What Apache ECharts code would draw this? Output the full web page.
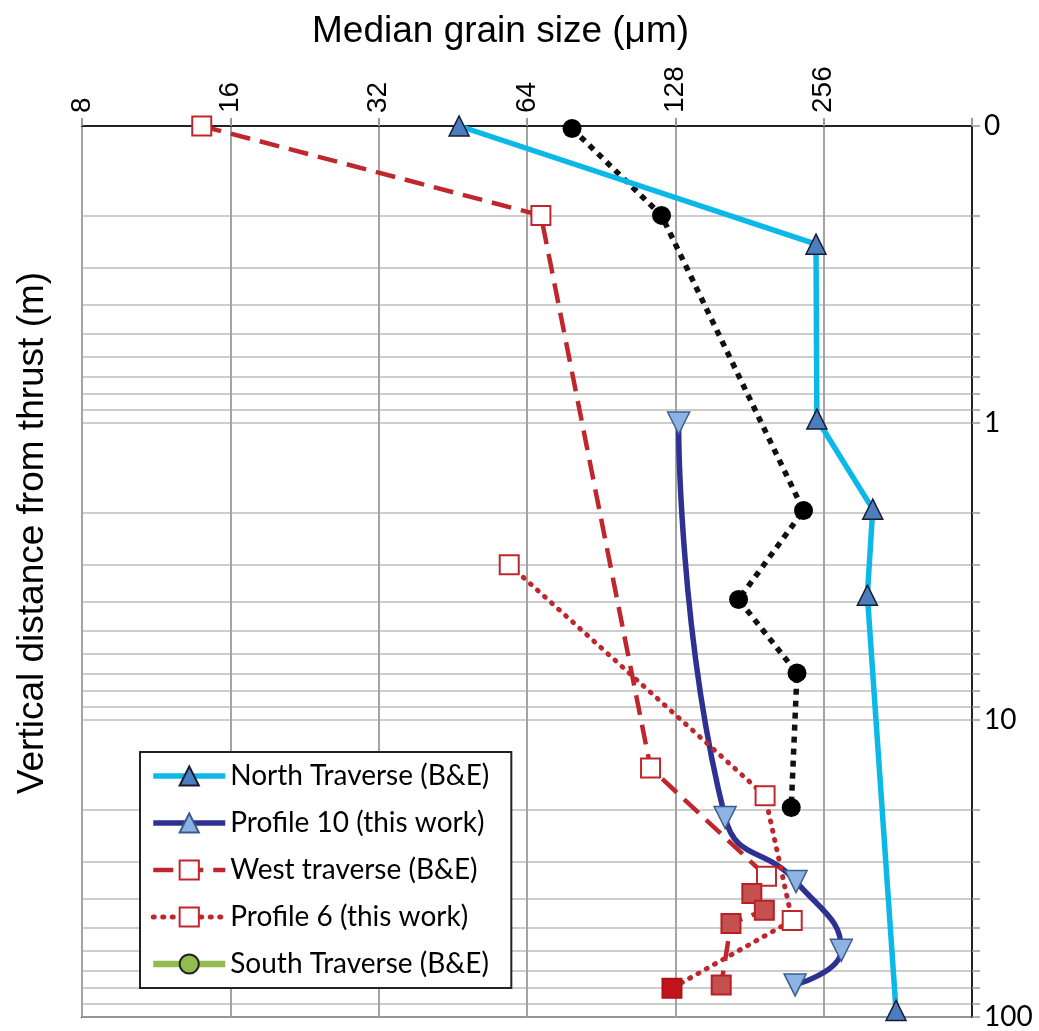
<!DOCTYPE html>
<html>
<head>
<meta charset="utf-8">
<script src="https://cdn.jsdelivr.net/npm/echarts@6/dist/echarts.min.js"></script>
<style>
  html, body { margin: 0; padding: 0; background: #fff; }
  #chart { width: 1039px; height: 1031px; }
</style>
</head>
<body>
<div id="chart"></div>
<script>
// grain size (um) vs vertical distance from thrust (m)
const northSize = [46.6, 247, 248, 322, 314, 359];
const northDepth = [0.1, 0.25, 0.97, 1.95, 3.8, 95];

const prof10Size = [130, 161.5, 225, 278, 224];
const prof10Depth = [1.0, 21.3, 35, 59.6, 78];

const westSize = [14.0, 68.3, 114, 196, 183, 194, 166, 158.6];
const westDepth = [0.1, 0.2, 14.5, 33.6, 38.4, 43.7, 48.4, 78];

const prof6Size = [58.9, 194.7, 221, 126];
const prof6Depth = [3.0, 18.0, 47.3, 80];

const southSize = [79, 120, 233, 172, 226, 220];
const southDepth = [0.102, 0.2, 1.97, 3.93, 6.95, 19.7];

const xTicks = [8, 16, 32, 64, 128, 256];
const legendNames = ['North Traverse (B&E)', 'Profile 10 (this work)', 'West traverse (B&E)', 'Profile 6 (this work)', 'South Traverse (B&E)'];

const zip = (a, b) => a.map((v, i) => [v, b[i]]);
const red = '#C0272D';

const chart = echarts.init(document.getElementById('chart'));

chart.setOption({
  animation: false,
  backgroundColor: '#fff',
  grid: { left: 82, right: 67, top: 126, bottom: 11, show: true, borderColor: '#222', borderWidth: 2 },
  xAxis: {
    type: 'log', logBase: 2, min: 8, max: 512, position: 'top',
    axisLine: { show: true, lineStyle: { color: '#222', width: 2 } },
    axisTick: { show: true, length: 8, lineStyle: { color: '#999', width: 2 } },
    axisLabel: {
      rotate: -90, fontFamily: 'Liberation Sans', fontSize: 28, color: '#000', margin: 13,
      formatter: v => xTicks.indexOf(Math.round(v)) >= 0 ? String(Math.round(v)) : ''
    },
    splitLine: { show: true, lineStyle: { color: '#A3A3A3', width: 2 } }
  },
  yAxis: [{
    type: 'log', logBase: 10, min: 0.1, max: 100, inverse: true, position: 'right',
    axisLine: { show: true, lineStyle: { color: '#222', width: 2 } },
    axisTick: { show: true, length: 8, lineStyle: { color: '#999', width: 1.5 } },
    minorTick: { show: true, splitNumber: 9, length: 8, lineStyle: { color: '#999', width: 1.5 } },
    minorSplitLine: { show: true, lineStyle: { color: '#BDBDBD', width: 1.5 } },
    splitLine: { show: true, lineStyle: { color: '#BDBDBD', width: 1.5 } },
    axisLabel: {
      fontFamily: 'Lato', fontSize: 28, color: '#000', margin: 12,
      formatter: v => v < 1 ? '0' : String(Math.round(v))
    }
  }],
  legend: {
    data: legendNames,
    orient: 'vertical', left: 140, top: 752,
    backgroundColor: '#fff', borderColor: '#222', borderWidth: 2,
    padding: [10, 22, 10, 10],
    itemWidth: 72, itemHeight: 24, itemGap: 19, symbolRotate: 0,
    lineStyle: { width: 'inherit', type: 'inherit' },
    textStyle: { fontFamily: 'Lato', fontSize: 28, lineHeight: 28, color: '#000', padding: [0, 0, 0, 0] }
  },
  graphic: [
    { type: 'text', x: 312, y: 32, style: { text: 'Median grain size (μm)', fontFamily: 'Liberation Sans', fontSize: 37, fill: '#000', textVerticalAlign: 'middle' } },
    { type: 'text', x: 14, y: 533, rotation: Math.PI / 2, style: { text: 'Vertical distance from thrust (m)', fontFamily: 'Liberation Sans', fontSize: 37, fill: '#000', textAlign: 'center', textVerticalAlign: 'top' } }
  ],
  series: [
    {
      name: 'South Traverse data', type: 'line', z: 3,
      data: zip(southSize, southDepth),
      symbol: 'circle', symbolSize: 19,
      itemStyle: { color: '#000' },
      lineStyle: { color: '#111', width: 5.5, type: [6, 6] }
    },
    {
      name: legendNames[0], type: 'line', z: 4,
      data: zip(northSize, northDepth),
      symbol: 'triangle', symbolSize: 20,
      itemStyle: { color: '#4A7EBF', borderColor: '#1A1A2E', borderWidth: 1.5 },
      lineStyle: { color: '#0CB8E8', width: 5.5 }
    },
    {
      name: legendNames[1], type: 'line', z: 5, smooth: 0.5,
      data: zip(prof10Size, prof10Depth),
      symbol: 'triangle', symbolRotate: 180, symbolSize: 22,
      itemStyle: { color: '#8DB3E2', borderColor: '#3B5D8E', borderWidth: 1.5 },
      lineStyle: { color: '#2E3192', width: 5.5 }
    },
    {
      name: legendNames[2], type: 'line', z: 6,
      data: zip(westSize, westDepth).map((p, i) => i >= 4
        ? { value: p, itemStyle: { color: '#C4504F', borderColor: '#B82025' } }
        : p),
      symbol: 'rect', symbolSize: 19,
      itemStyle: { color: '#fff', borderColor: red, borderWidth: 2 },
      lineStyle: { color: red, width: 4.5, type: [20, 10] }
    },
    {
      name: legendNames[3], type: 'line', z: 6,
      data: zip(prof6Size, prof6Depth).map((p, i) => i === prof6Size.length - 1
        ? { value: p, itemStyle: { color: '#C1141C', borderColor: '#B01018' } }
        : p),
      symbol: 'rect', symbolSize: 19,
      itemStyle: { color: '#fff', borderColor: red, borderWidth: 2 },
      lineStyle: { color: red, width: 5, type: [1, 8.5], cap: 'round' }
    },
    {
      name: legendNames[4], type: 'line', data: [],
      symbol: 'circle', symbolSize: 16,
      itemStyle: { color: '#93BC50', borderColor: '#222', borderWidth: 1.5 },
      lineStyle: { color: '#93BC50', width: 6.5 }
    }
  ]
});
</script>
</body>
</html>
